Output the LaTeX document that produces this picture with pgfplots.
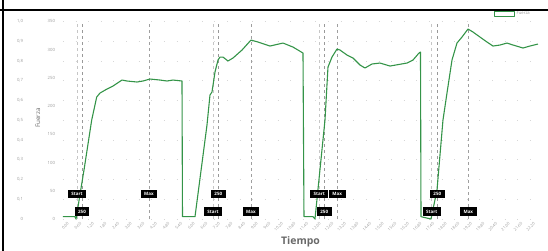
\documentclass[border=0pt]{standalone}
\usepackage{fontspec}
\setmainfont{Open Sans}
\usepackage{pgfplots}
\usepackage{pgfplotstable}
\pgfplotsset{compat=1.18}
\definecolor{fgreen}{RGB}{52,148,72}
\definecolor{tickgray}{RGB}{155,155,155}
\definecolor{labgray}{RGB}{105,105,105}
\definecolor{gridgray}{RGB}{215,215,215}

\pgfplotstableread{
t v
0.000 4.1
0.571 4.1
0.619 0
1.000 86.7
1.367 175.2
1.605 215.9
1.762 223.0
2.095 230.1
2.381 235.4
2.810 246.0
3.048 244.3
3.524 242.5
3.810 244.3
4.143 247.8
4.619 246.0
4.952 244.3
5.238 246.0
5.667 244.3
5.690 4.1
6.286 4.1
6.857 166.4
7.000 219.5
7.095 224.8
7.238 260.2
7.381 281.4
7.476 286.7
7.619 286.7
7.857 279.7
8.095 285.0
8.524 299.1
8.952 316.8
9.286 313.3
9.857 306.2
10.476 311.5
10.952 304.4
11.429 293.8
11.476 4.1
11.905 4.1
12.000 0
12.476 175.2
12.619 269.0
12.810 286.7
13.048 300.9
13.190 299.1
13.524 290.3
13.810 285.0
14.143 272.6
14.381 267.3
14.714 274.4
15.095 276.1
15.571 270.8
16.381 276.1
16.667 281.4
16.952 293.8
17.024 295.6
17.048 4.1
17.524 0
17.810 51.3
18.095 175.2
18.286 223.0
18.524 281.4
18.762 311.5
19.000 322.1
19.286 336.3
19.524 331.0
19.857 322.1
20.190 313.3
20.476 306.2
20.810 308.0
21.143 311.5
21.429 308.0
21.905 302.7
22.238 306.2
22.619 309.7
}\fuerza

\pgfplotstableread{
x y lab
0.667 44.2 Start
0.905 12.9 250
4.095 44.2 Max
7.143 12.9 Start
7.395 44.2 250
8.952 12.9 Max
12.20 44.2 Start
12.44 12.9 250
13.06 44.2 Max
17.557 12.9 Start
17.824 44.2 250
19.30 12.9 Max
}\marcas

\begin{document}
\begin{tikzpicture}
\path[use as bounding box] (-63bp,-32bp) rectangle (485bp,219bp);
% secondary axis 0-1 with grid
\begin{axis}[
  at={(0,0)}, anchor=south west,
  scale only axis, width=475bp, height=197.7bp,
  xmin=0, xmax=22.62, ymin=0, ymax=1,
  axis line style={draw=none}, tick style={draw=none},
  xtick=\empty,
  ytick={0,0.1,0.2,0.3,0.4,0.5,0.6,0.7,0.8,0.9,1.0},
  yticklabels={0,{0,1},{0,2},{0,3},{0,4},{0,5},{0,6},{0,7},{0,8},{0,9},{1,0}},
  yticklabel style={font=\fontsize{4.3}{5}\selectfont, text=tickgray, anchor=east, xshift=-36.5bp},
  ymajorgrids, grid style={gridgray, line width=0.6bp, dash pattern=on 0.8bp off 11.82bp},
]
\addplot[draw=none] coordinates {(0,0)};
\end{axis}
\begin{axis}[
  at={(0,0)}, anchor=south west,
  scale only axis, width=475bp, height=197.7bp,
  xmin=0, xmax=22.62, ymin=0, ymax=350,
  axis line style={draw=none}, tick style={draw=none},
  clip=false,
  xtick={0,0.6,...,22.25},
  ytick={0,50,...,350},
  /pgf/number format/assume math mode=true,
  xticklabel={\pgfmathprintnumber[fixed, fixed zerofill, precision=2, use comma]{\tick}},
  yticklabel style={font=\fontsize{4.3}{5}\selectfont, text=tickgray, anchor=east, xshift=-4.5bp},
  xticklabel style={font=\fontsize{4}{4.5}\selectfont, text=tickgray, xshift=4bp, yshift=-2bp, rotate=45, anchor=north east, inner sep=0.5bp},
  xlabel={Tiempo},
  xlabel style={font=\fontsize{10.5}{12}\selectfont\bfseries, text=labgray, at={(axis description cs:0.5,0)}, anchor=center, yshift=-23bp},
  legend style={at={(axis description cs:1,1)}, anchor=south east, xshift=-6bp, yshift=3bp, draw=none, fill=none, inner sep=0pt, font=\fontsize{4.2}{5}\selectfont, text=tickgray, legend cell align=left},
  legend image code/.code={\draw[#1, fill=white, line width=1bp] (0bp,-2.5bp) rectangle (20bp,2.5bp);},
]
\foreach \xx in {0.667,7.143,12.20,17.557} {
  \edef\tmp{\noexpand\addplot[forget plot, gray!45, line width=0.6bp, dash pattern=on 3bp off 3bp] coordinates {(\xx,0) (\xx,350)};}\tmp
}
\foreach \xx in {0.905,7.395,12.44,17.824} {
  \edef\tmp{\noexpand\addplot[forget plot, gray!80, line width=0.6bp, dash pattern=on 3bp off 3bp] coordinates {(\xx,0) (\xx,350)};}\tmp
}
\foreach \xx in {4.095,8.952,13.06,19.30} {
  \edef\tmp{\noexpand\addplot[forget plot, gray!75, line width=0.6bp, dash pattern=on 3bp off 3bp] coordinates {(\xx,0) (\xx,350)};}\tmp
}
\addplot[fgreen, line width=1.1bp, line join=round] table[x=t, y=v] {\fuerza};
\addlegendentry{Fuerza}
\addplot[forget plot, draw=none, mark=none, nodes near coords, point meta=explicit symbolic,
  nodes near coords style={fill=black, text=white, anchor=center, font=\fontsize{4.5}{5}\selectfont\bfseries, inner xsep=3.5bp, inner ysep=2.6bp, text height=3.4bp, text depth=0pt}]
  table[x=x, y=y, meta=lab] {\marcas};
\node[rotate=90, font=\fontsize{6.3}{7}\selectfont, text=labgray] at ([xshift=-25bp]rel axis cs:0,0.51) {Fuerza};
\end{axis}
\draw[black, line width=2bp] (-60bp,219bp) -- (-60bp,-32bp);
\draw[black, line width=2.5bp] (-63bp,209bp) -- (485bp,209bp);
\end{tikzpicture}
\end{document}
